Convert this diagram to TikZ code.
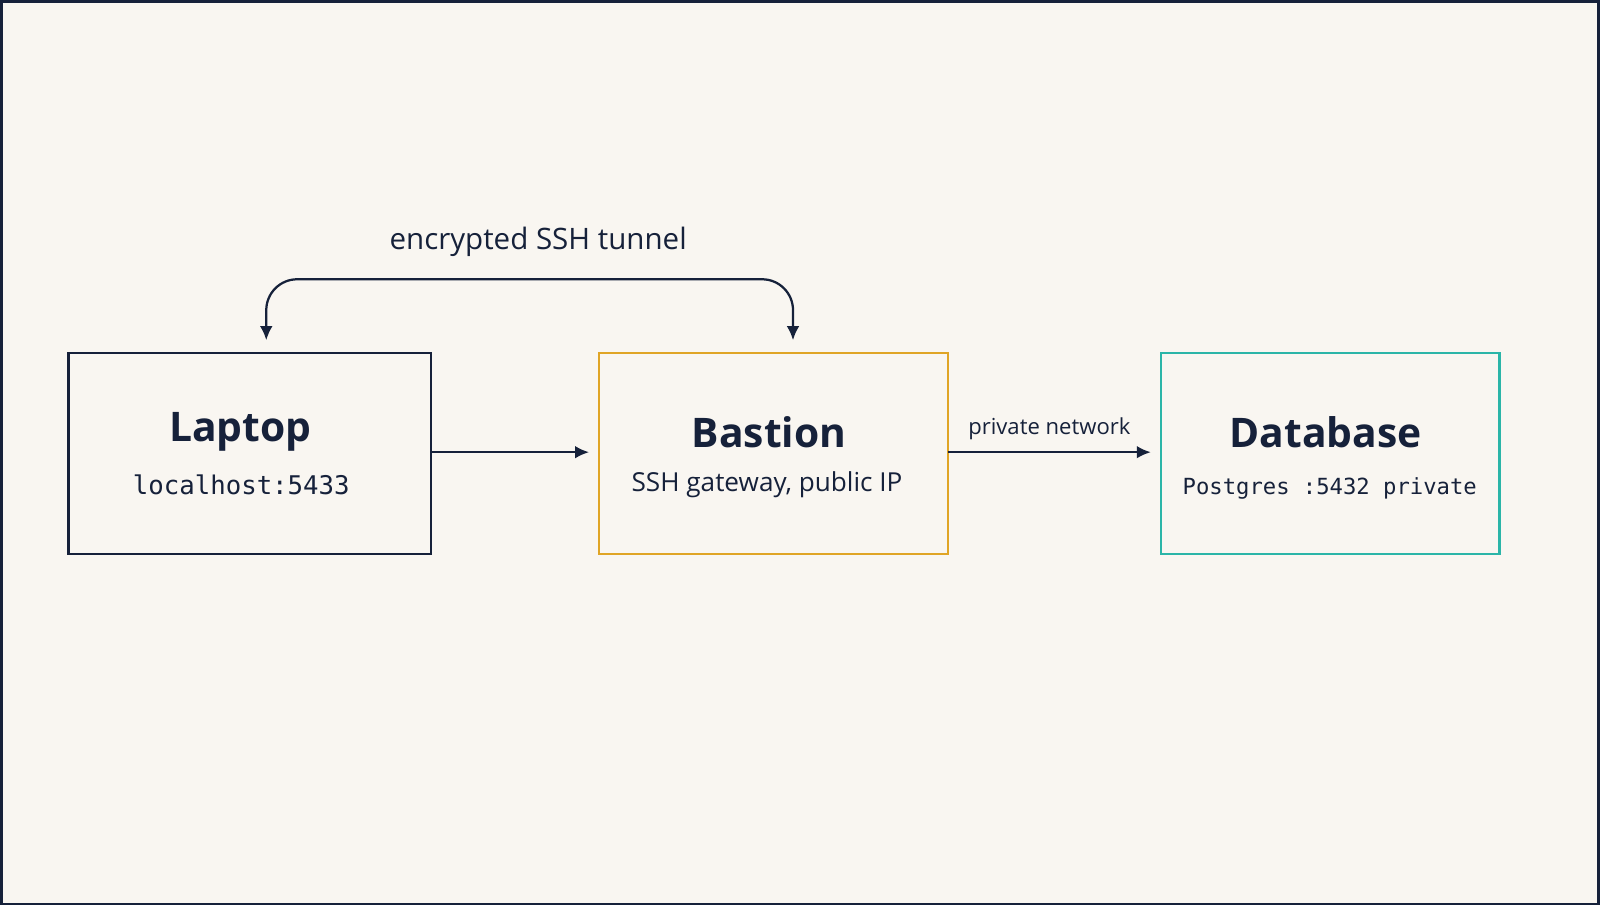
\documentclass[tikz,border=0pt]{standalone}
\usepackage{fontspec}
\setmainfont{Open Sans}
\setmonofont{DejaVu Sans Mono}
\usetikzlibrary{arrows.meta}
\definecolor{ink}{HTML}{16213A}
\definecolor{bg}{HTML}{F9F6F1}
\definecolor{amber}{HTML}{E0A526}
\definecolor{teal}{HTML}{2BB5A8}
\begin{document}
\begin{tikzpicture}[x=0.025cm,y=-0.025cm,
  box/.style={draw=#1,line width=1.8pt,fill=none},
  conn/.style={draw=ink,line width=1.6pt,-{Latex[length=10pt,width=9pt]}},
  title/.style={font=\fontsize{29}{34}\selectfont\bfseries,text=ink},
  sub/.style={font=\fontsize{18.6}{22}\selectfont,text=ink},
  mono/.style={font=\fontsize{18.3}{22}\selectfont\ttfamily,text=ink}]
\fill[bg,draw=ink,line width=2pt] (1,1) rectangle (1599,904);
\useasboundingbox (0,0) rectangle (1600,905);
\draw[box=ink] (68,353) rectangle (431,554);
\draw[box=amber] (599,353) rectangle (948,554);
\draw[box=teal] (1161,353) rectangle (1500,554);
\node[title] (lt) at (240,432) {Laptop};
\node[mono] (ls) at (241,485) {localhost:5433};
\node[title] (bt) at (769,432) {Bastion};
\node[sub] (bs) at (767,485) {SSH gateway, public IP};
\node[title] (dt) at (1326,432) {Database};
\node[mono,font=\fontsize{15.8}{19}\selectfont\ttfamily] (ds) at (1330,488) {Postgres :5432 private};
\coordinate (l1) at (431,452); \coordinate (b1) at (589,452);
\coordinate (b2) at (948,452); \coordinate (d1) at (1151,452);
\draw[conn] (l1) -- (b1);
\draw[conn] (b2) -- node[above=5pt,font=\fontsize{15.7}{19}\selectfont,text=ink]{private network} (d1);
\coordinate (ta) at (266,340); \coordinate (tb) at (793,340);
\draw[conn,{Latex[length=10pt,width=9pt]}-{Latex[length=10pt,width=9pt]},rounded corners=22] (ta) -- (266,279) -- (793,279) -- (tb);
\node[font=\fontsize{21}{25}\selectfont,text=ink] (tl) at (538,242) {encrypted SSH tunnel};
\end{tikzpicture}
\end{document}
